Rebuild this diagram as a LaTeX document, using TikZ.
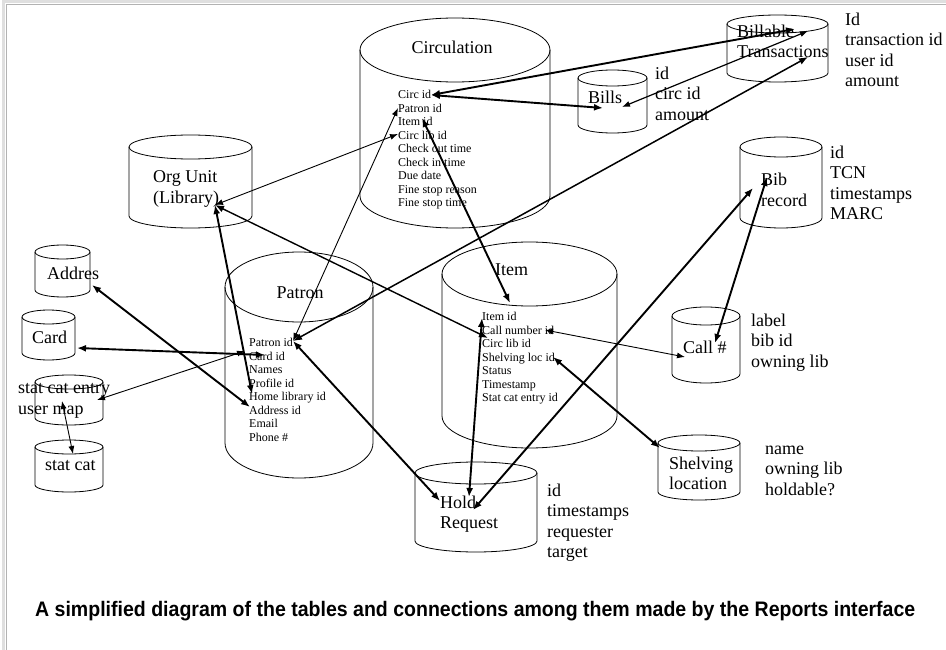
\documentclass[tikz,border=0pt]{standalone}
\usepackage{fontspec}
\setmainfont{Liberation Serif}
\newfontfamily\capfont[FakeStretch=0.93]{Liberation Sans}
\usetikzlibrary{arrows.meta}

\tikzset{
  tbl/.style={line width=0.8pt},
  lbl/.style={inner sep=0pt,align=left,anchor=north west,font=\fontsize{18}{20.5}\selectfont},
  fld/.style={inner sep=0pt,align=left,anchor=north west,font=\fontsize{12}{13.5}\selectfont},
  link/.style={{Latex[length=9pt,width=7pt]}-{Latex[length=9pt,width=7pt]},line width=1.9pt},
  thinlink/.style={{Latex[length=8pt,width=6pt]}-{Latex[length=8pt,width=6pt]},line width=0.9pt},
}

% table drum: name, centre x, top, bottom, x radius, y radius
\newcommand\dbcyl[6]{%
  \draw[tbl] (#2-#5,#3+#6) -- (#2-#5,#4-#6)
    arc[start angle=180,end angle=360,x radius=#5pt,y radius=#6pt] -- (#2+#5,#3+#6);
  \draw[tbl] (#2,#3+#6) ellipse[x radius=#5pt,y radius=#6pt];
  \coordinate (#1) at (#2,{(#3+#4)/2});
}

\begin{document}
\begin{tikzpicture}[x=1pt,y=-1pt]
  \useasboundingbox (0,0) rectangle (946,650);
  \draw[gray!25,line width=3pt] (3,650) -- (3,2) -- (946,2);
  \draw[gray!60,line width=1pt] (6,650) -- (6,5) -- (946,5);

  % tables
  \dbcyl{circ}{455}{18}{228}{95}{32}
  \dbcyl{billt}{777.5}{15}{82}{50.5}{9}
  \dbcyl{bills}{612.5}{70}{133}{34.5}{8}
  \dbcyl{org}{190.5}{135}{228}{61.5}{12}
  \dbcyl{patron}{299}{252}{478}{74}{35}
  \dbcyl{item}{529.5}{242}{448}{87.5}{32}
  \dbcyl{bib}{781}{137}{228}{41}{10}
  \dbcyl{callno}{706}{307}{383}{34}{9}
  \dbcyl{shelf}{699}{435}{500}{41}{8}
  \dbcyl{hold}{476}{462}{552}{61}{11}
  \dbcyl{addr}{62.5}{245}{297}{27.5}{7}
  \dbcyl{card}{48.5}{310}{360}{26.5}{7}
  \dbcyl{sce}{69}{375}{425}{34}{7}
  \dbcyl{statcat}{69}{440}{492}{34}{7}

  % names
  \node[lbl,anchor=center] (circname) at (452,47) {Circulation};
  \node[lbl] (billtname) at (737,24.5) {Billable\\Transactions};
  \node[lbl] (billsname) at (588,90.5) {Bills};
  \node[lbl] (orgname) at (153,170.5) {Org Unit\\(Library)};
  \node[lbl] (bibname) at (761,173) {Bib\\record};
  \node[lbl,anchor=center] (patronname) at (300,293) {Patron};
  \node[lbl] (itemname) at (495,263.5) {Item};
  \node[lbl] (callname) at (683,340.5) {Call \#};
  \node[lbl] (shelfname) at (669,456.5) {Shelving\\location};
  \node[lbl] (holdname) at (440,495.5) {Hold\\Request};
  \node[lbl] (addrname) at (47,266.5) {Addres};
  \node[lbl] (cardname) at (32,330.5) {Card};
  \node[lbl] (scename) at (18,383.5) {stat cat entry\\user map};
  \node[lbl] (statcatname) at (45,460.5) {stat cat};

  % columns
  \node[fld] (circfld) at (398,90) {Circ id\\Patron id\\Item id\\Circ lib id\\Check out time\\Check in time\\Due date\\Fine stop reason\\Fine stop time};
  \node[fld] (patronfld) at (249,338) {Patron id\\Card id\\Names\\Profile id\\Home library id\\Address id\\Email\\Phone \#};
  \node[fld] (itemfld) at (482,312) {Item id\\Call number id\\Circ lib id\\Shelving loc id\\Status\\Timestamp\\Stat cat entry id};
  \node[lbl] (billtfld) at (845,12.5) {Id\\transaction id\\user id\\amount};
  \node[lbl] (billsfld) at (655,66.5) {id\\circ id\\amount};
  \node[lbl] (bibfld) at (830,145.5) {id\\TCN\\timestamps\\MARC};
  \node[lbl] (callfld) at (751,313.5) {label\\bib id\\owning lib};
  \node[lbl] (shelffld) at (765,445.5) {name\\owning lib\\holdable?};
  \node[lbl] (holdfld) at (547,483.5) {id\\timestamps\\requester\\target};

  % link ends
  \coordinate (c-circid) at (431,95);
  \coordinate (c-patronid) at (398,108);
  \coordinate (c-itemid) at (422,118);
  \coordinate (c-circlib) at (398,134);
  \coordinate (bt-a) at (795,29);
  \coordinate (bt-b) at (808,31);
  \coordinate (bt-c) at (808,57);
  \coordinate (bl-a) at (603,108);
  \coordinate (bl-b) at (622,107);
  \coordinate (o-lib) at (215,205);
  \coordinate (p-id) at (293,341);
  \coordinate (p-card) at (265,355);
  \coordinate (p-home) at (252,394);
  \coordinate (p-addr) at (250,407);
  \coordinate (p-left) at (245,351);
  \coordinate (i-top) at (510,303);
  \coordinate (i-itemid) at (482,318);
  \coordinate (i-circlib) at (488,338);
  \coordinate (i-callno) at (545,330);
  \coordinate (i-shelf) at (553,357);
  \coordinate (h-a) at (440,501);
  \coordinate (h-b) at (469,497);
  \coordinate (h-c) at (473,510);
  \coordinate (b-a) at (753,188);
  \coordinate (b-b) at (767,177);
  \coordinate (cn-a) at (715,343);
  \coordinate (cn-b) at (685,357);
  \coordinate (s-loc) at (660,448);
  \coordinate (a-tab) at (92,285);
  \coordinate (cd-tab) at (77,348);
  \coordinate (sce-a) at (97,400);
  \coordinate (sce-b) at (62,401);
  \coordinate (sc-tab) at (73,454);

  % links
  \draw[link] (c-circid) -- (bt-a);
  \draw[link] (c-circid) -- (bl-a);
  \draw[thinlink,line width=1.2pt] (bl-b) -- (bt-b);
  \draw[link,line width=1.5pt] (p-id) -- (bt-c);
  \draw[thinlink] (o-lib) -- (c-circlib);
  \draw[link] (o-lib) -- (p-home);
  \draw[link,line width=1.4pt] (o-lib) -- (i-circlib);
  \draw[thinlink] (p-id) -- (c-patronid);
  \draw[link] (c-itemid) -- (i-top);
  \draw[link] (cd-tab) -- (p-card);
  \draw[link] (a-tab) -- (p-addr);
  \draw[thinlink] (sce-a) -- (p-left);
  \draw[thinlink] (sce-b) -- (sc-tab);
  \draw[link] (p-id) -- (h-a);
  \draw[link] (i-itemid) -- (h-b);
  \draw[link] (h-c) -- (b-a);
  \draw[link] (b-b) -- (cn-a);
  \draw[thinlink] (i-callno) -- (cn-b);
  \draw[link] (i-shelf) -- (s-loc);

  \node[anchor=west,inner sep=0pt,font=\capfont\bfseries\fontsize{21}{24}\selectfont] (caption) at (35,611)
    {A simplified diagram of the tables and connections among them made by the Reports interface};
\end{tikzpicture}
\end{document}
